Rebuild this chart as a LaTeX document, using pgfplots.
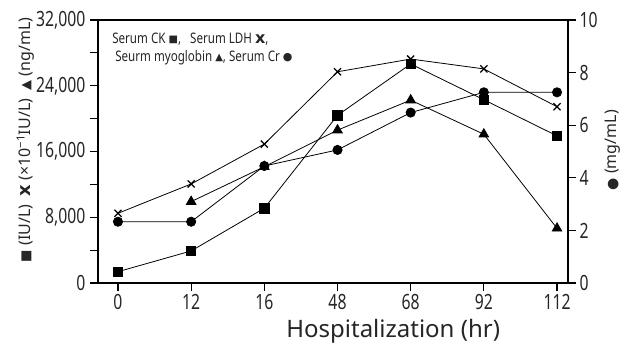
\documentclass[border=0pt]{standalone}
\usepackage{fontspec}
\setmainfont{Noto Sans}
\newfontfamily\narrow{Noto Sans}[FakeStretch=0.75]
\newfontfamily\legfont{Noto Sans}[FakeStretch=0.8]
\newfontfamily\sym{DejaVu Sans}
\newcommand\symb[3]{\raisebox{#3}{\sym\fontsize{#1}{#1}\selectfont #2}}
\newcommand\bx{{\sym\bfseries x}}
\usepackage{pgfplots}
\pgfplotsset{compat=1.18}
\definecolor{txt}{HTML}{262626}
\begin{document}
\begin{tikzpicture}
\useasboundingbox (-98bp,-61bp) rectangle (531bp,283bp);
\begin{axis}[
  scale only axis, width=470bp, height=263bp,
  at={(0,0)}, anchor=south west,
  xmin=-0.273, xmax=6.15,
  ymin=0, ymax=32000,
  xtick={0,1,2,3,4,5,6},
  xticklabels={0,12,16,48,68,92,112},
  xtick pos=bottom,
  ytick={0,8000,16000,24000,32000},
  minor ytick={4000,12000,20000,28000},
  ytick pos=left,
  tick align=outside,
  major tick length=8bp, minor tick length=8bp,
  every tick/.style={black, line width=1.1pt},
  axis line style={black, line width=1.1pt},
  scaled y ticks=false,
  /pgf/number format/assume math mode=true,
  /pgf/number format/1000 sep={,},
  tick label style={font=\narrow\fontsize{21bp}{24bp}\selectfont, text=txt},
  yticklabel style={xshift=-1bp},
  xlabel={Hospitalization (hr)},
  xlabel style={at={(axis description cs:0.628,-0.183)}, anchor=center, font=\fontsize{24bp}{27bp}\selectfont, text=txt},
  ylabel={\symb{13bp}{■}{1bp} (IU/L)\ \ {\fontsize{18bp}{18bp}\selectfont\bx} (×10\textsuperscript{−1}IU/L)\ \ \symb{13bp}{▲}{1bp} (ng/mL)},
  ylabel style={at={(axis description cs:-0.154,0.544)}, anchor=center, font=\fontsize{16bp}{19bp}\selectfont, text=txt},
  clip=false,
]
\addplot[black, line width=0.8pt, mark=square*, mark size=4.7bp] coordinates {
 (0,1375) (1,3900) (2,9100) (3,20400) (4,26650) (5,22300) (6,17900)};
\addplot[black, line width=0.8pt, mark=x, mark size=5bp, mark options={line width=1.3pt}] coordinates {
 (0,8480) (1,12050) (2,16900) (3,25700) (4,27250) (5,26050) (6,21450)};
\addplot[black, line width=0.8pt, mark=triangle*, mark size=5.5bp] coordinates {
 (1,9900) (2,14150) (3,18600) (4,22250) (5,18100) (6,6650)};
\node[anchor=north west, align=left, font=\legfont\fontsize{14.5bp}{18bp}\selectfont, text=txt, inner sep=0pt]
  at (axis description cs:0.03,0.95)
  {Serum CK \symb{10bp}{■}{1.2bp},\ \ \ Serum LDH {\fontsize{16bp}{16bp}\selectfont\bx},\\\ Seurm myoglobin \symb{10bp}{▲}{1.2bp}, Serum Cr \symb{11bp}{●}{1bp}};
\end{axis}
\begin{axis}[
  scale only axis, width=470bp, height=263bp,
  at={(0,0)}, anchor=south west,
  xmin=-0.273, xmax=6.15,
  ymin=0, ymax=10,
  axis x line=none,
  axis y line*=right,
  ytick={0,2,4,6,8,10},
  tick align=outside,
  major tick length=8bp,
  every tick/.style={black, line width=1.1pt},
  axis line style={black, line width=1.1pt},
  /pgf/number format/assume math mode=true,
  tick label style={font=\narrow\fontsize{21bp}{24bp}\selectfont, text=txt},
  ylabel={\symb{14bp}{●}{0bp} (mg/mL)},
  ylabel style={at={(axis description cs:1.096,0.505)}, anchor=center, rotate=0, font=\fontsize{16bp}{19bp}\selectfont, text=txt},
  clip=false,
]
\addplot[black, line width=0.8pt, mark=*, mark size=4.6bp] coordinates {
 (0,2.33) (1,2.33) (2,4.45) (3,5.06) (4,6.48) (5,7.25) (6,7.25)};
\end{axis}
\end{tikzpicture}
\end{document}
